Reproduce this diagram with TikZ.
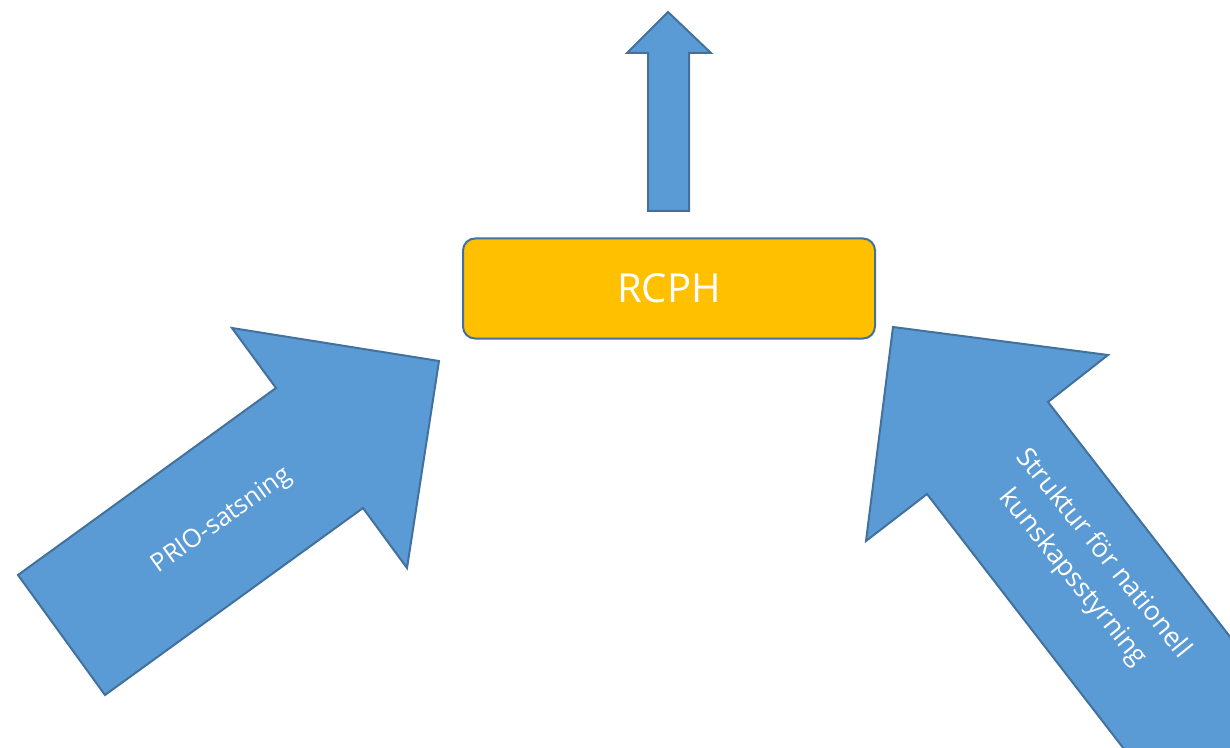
\documentclass[tikz,border=0pt]{standalone}
\usepackage{fontspec}
\setmainfont{Open Sans}
\definecolor{arrowblue}{HTML}{5B9BD5}
\definecolor{edgeblue}{HTML}{41719C}
\definecolor{boxgold}{HTML}{FFC000}
\begin{document}
\begin{tikzpicture}
  [
    x=0.75pt, y=-0.75pt,
    line join=miter,
    bigarrow/.style={fill=arrowblue, draw=edgeblue, line width=1.5pt},
    hubbox/.style={fill=boxgold, draw=edgeblue, line width=1.5pt,
      rounded corners=9pt, minimum width=309pt, minimum height=75pt,
      inner sep=0pt, text=white, font=\fontsize{30}{36}\selectfont},
    arrowtext/.style={text=white, align=center, inner sep=0pt,
      font=\fontsize{19}{28}\selectfont},
  ]
\useasboundingbox (0,0) rectangle (1230,748);
\clip (0,0) rectangle (1230,748);

% up arrow
\draw[bigarrow] (648,211) -- (648,53) -- (627,53) -- (668,12)
  -- (711,53) -- (689,53) -- (689,211) -- cycle;

% hub
\node[hubbox] (RCPH) at (669,288.5) {RCPH};

% left arrow
\draw[bigarrow] (18,575) -- (276,388) -- (232,328) -- (439,361)
  -- (407,568) -- (363,508) -- (105,695) -- cycle;
\node[arrowtext, rotate=35.5] (prio) at (222,521) {PRIO-satsning};

% right arrow
\draw[bigarrow] (893,327) -- (1108,355) -- (1048,402) -- (1324,758)
  -- (1141,771) -- (927,494) -- (866,541) -- cycle;
\node[arrowtext, rotate=-51, font=\fontsize{20}{29}\selectfont]
  (struktur) at (1088,566) {Struktur för nationell\\kunskapsstyrning};

\end{tikzpicture}
\end{document}
